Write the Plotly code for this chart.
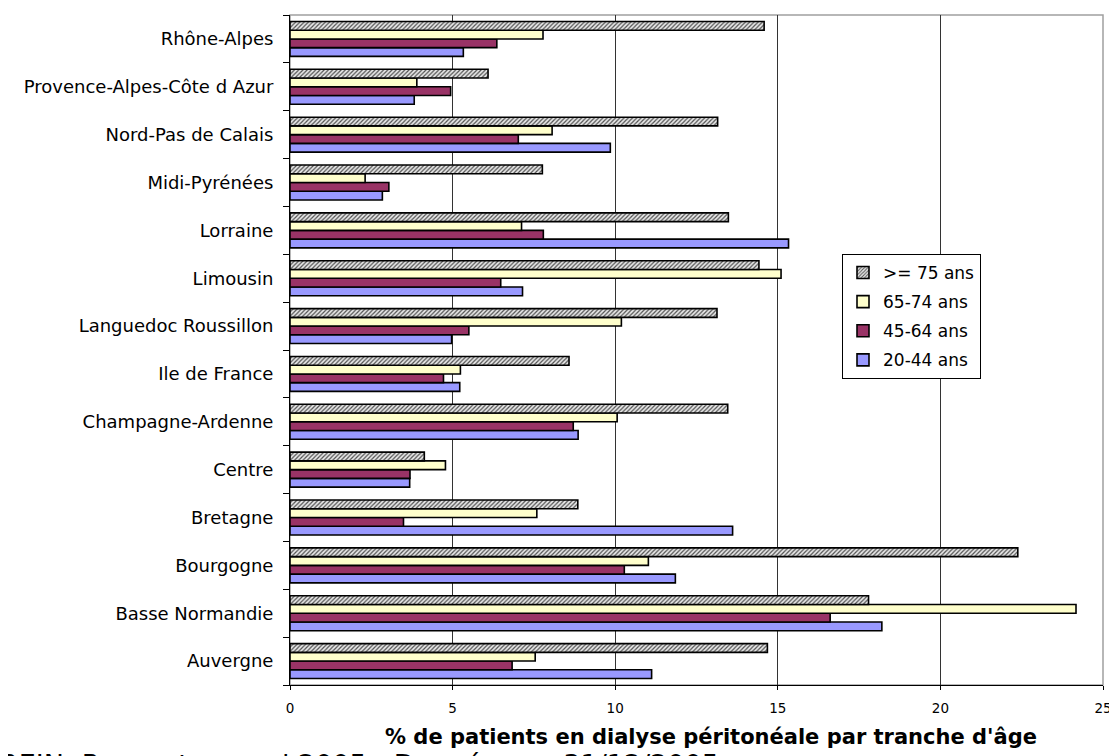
import plotly.graph_objects as go

# Categories (bottom -> top as drawn)
regions = ["Auvergne", "Basse Normandie", "Bourgogne", "Bretagne", "Centre",
           "Champagne-Ardenne", "Ile de France", "Languedoc Roussillon", "Limousin",
           "Lorraine", "Midi-Pyrénées", "Nord-Pas de Calais",
           "Provence-Alpes-Côte d Azur", "Rhône-Alpes"]

age_75_plus = [14.68, 17.79, 22.38, 8.85, 4.13, 13.46, 8.58, 13.13, 14.42, 13.48, 7.76, 13.15, 6.09, 14.58]
age_65_74 = [7.54, 24.17, 11.02, 7.59, 4.78, 10.06, 5.24, 10.19, 15.10, 7.12, 2.31, 8.06, 3.90, 7.78]
age_45_64 = [6.83, 16.61, 10.28, 3.49, 3.69, 8.71, 4.72, 5.50, 6.48, 7.79, 3.04, 7.02, 4.94, 6.36]
age_20_44 = [11.12, 18.20, 11.85, 13.61, 3.68, 8.86, 5.22, 4.97, 7.15, 15.33, 2.84, 9.85, 3.82, 5.33]

series_names = ["20-44 ans", "45-64 ans", "65-74 ans", ">= 75 ans"]
x_ticks = [0, 5, 10, 15, 20, 25]
x_title = "% de patients en dialyse péritonéale par tranche d'âge"
source_text = "REIN: Rapport annuel 2005 - Données au 31/12/2005"

FONT = "DejaVu Sans"

# page body has an 8px margin, so the figure is drawn 8px right/down
W, H = 1109, 748
L, R, T, B = 282, 14, 7, 71
PW = W - L - R
PH = H - T - B

fig = go.Figure()

fig.add_trace(go.Bar(y=regions, x=age_20_44, name=series_names[0], orientation="h",
                     legendgroup="a", legendrank=4, marker=dict(color="#9999FF",
                     line=dict(color="#000000", width=1.6))))
fig.add_trace(go.Bar(y=regions, x=age_45_64, name=series_names[1], orientation="h",
                     legendgroup="b", legendrank=3, marker=dict(color="#993366",
                     line=dict(color="#000000", width=1.6))))
fig.add_trace(go.Bar(y=regions, x=age_65_74, name=series_names[2], orientation="h",
                     legendgroup="c", legendrank=2, marker=dict(color="#FFFFCC",
                     line=dict(color="#000000", width=1.6))))
fig.add_trace(go.Bar(y=regions, x=age_75_plus, name=series_names[3], orientation="h",
                     legendgroup="d", legendrank=1, marker=dict(color="#C8C8C8",
                     line=dict(color="#000000", width=1.6),
                     pattern=dict(shape="/", size=3, solidity=0.4,
                                  fgcolor="#505050", bgcolor="#E8E8E8",
                                  fillmode="replace"))))

fig.update_layout(
    width=W, height=H,
    margin=dict(l=L, r=R, t=T, b=B, autoexpand=False),
    paper_bgcolor="white", plot_bgcolor="white",
    font=dict(family=FONT, color="black", size=14),
    barmode="group", bargap=0.27, bargroupgap=0,
    showlegend=True,
    legend=dict(x=(842 - 290) / PW, y=(685 - 254) / PH, xanchor="left", yanchor="top",
                bgcolor="white", bordercolor="black", borderwidth=1,
                font=dict(family=FONT, size=17, color="black"),
                traceorder="grouped", tracegroupgap=4,
                itemwidth=30),
    xaxis=dict(range=[0, 25], tickvals=x_ticks, ticktext=[str(v) for v in x_ticks],
               showgrid=True, gridcolor="#333333", gridwidth=1,
               showline=True, linecolor="black", linewidth=1,
               ticks="outside", ticklen=4, tickcolor="black",
               tickfont=dict(family=FONT, size=13.5, color="black"),
               ticklabelstandoff=7, zeroline=False, automargin=False, fixedrange=True),
    yaxis=dict(type="category", categoryorder="array", categoryarray=regions,
               showgrid=False, showline=True, linecolor="black", linewidth=1,
               ticks="outside", ticklen=6, tickcolor="black", tickson="boundaries",
               tickfont=dict(family=FONT, size=18, color="black"),
               ticklabelstandoff=12, zeroline=False, automargin=False, fixedrange=True),
    shapes=[dict(type="rect", xref="paper", yref="paper", x0=0, x1=1, y0=0, y1=1,
                 line=dict(color="#A0A0A0", width=1.5), layer="below")],
    annotations=[
        dict(text=source_text, xref="paper", yref="paper",
             x=(-2 - 290) / PW, y=(685 - 747) / PH, xanchor="left", yanchor="top",
             showarrow=False, font=dict(family=FONT, size=27, color="black")),
        dict(text="<b>" + x_title + "</b>", xref="paper", yref="paper",
             x=(711 - 290) / PW, y=(685 - 737) / PH, xanchor="center", yanchor="middle",
             showarrow=False, bgcolor="rgba(255,255,255,0)",
             font=dict(family=FONT, size=21, color="black")),
    ],
)

fig.write_html("out.html")
